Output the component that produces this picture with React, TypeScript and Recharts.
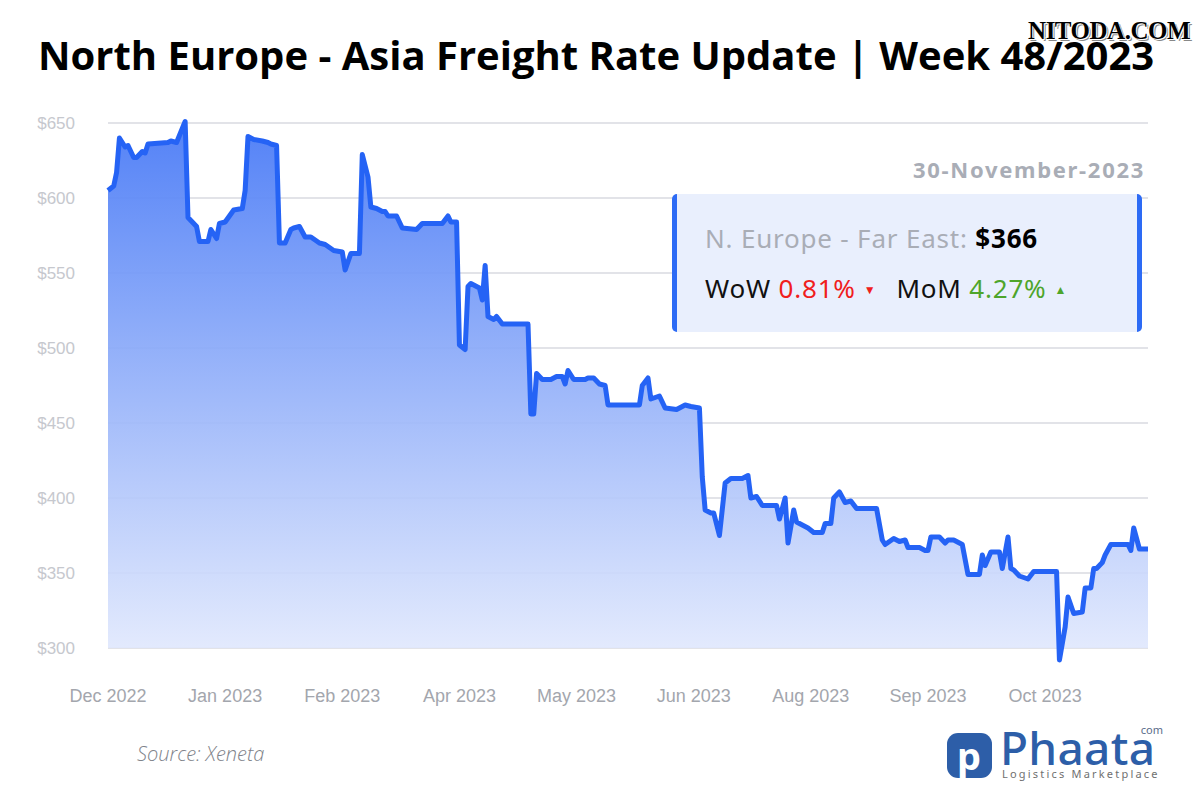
import React from "react";
import { AreaChart, Area, XAxis, YAxis, CartesianGrid } from "recharts";

if (typeof document !== "undefined") {
  document.body.style.margin = "0";
}

const tickLabels = [
  "Dec 2022", "Jan 2023", "Feb 2023", "Apr 2023", "May 2023",
  "Jun 2023", "Aug 2023", "Sep 2023", "Oct 2023",
];
const tickDays = [0, 41, 82, 123, 164, 205, 246, 287, 328];
const yTicks = [300, 350, 400, 450, 500, 550, 600, 650];

// day index since 1 Dec 2022
const days = [
  0, 2, 3, 4, 5, 6, 7, 9, 10, 12, 13, 14, 21, 22, 24, 27, 28, 31, 32, 35,
  36, 38, 39, 41, 44, 47, 48, 49, 51, 54, 56, 57, 59, 60, 62, 64, 65, 67, 69, 71,
  74, 76, 79, 82, 83, 85, 88, 89, 91, 92, 94, 96, 97, 98, 101, 103, 108, 110, 117, 119,
  120, 122, 123, 125, 126, 127, 130, 131, 132, 133, 135, 136, 138, 147, 148, 149, 150, 152, 155, 157,
  159, 160, 161, 163, 167, 168, 170, 172, 174, 175, 186, 187, 189, 190, 193, 195, 199, 202, 204, 207,
  208, 209, 211, 212, 214, 216, 218, 222, 224, 225, 227, 229, 234, 235, 237, 238, 240, 241, 242, 245,
  247, 250, 251, 253, 254, 256, 258, 260, 262, 269, 271, 272, 275, 277, 279, 280, 284, 286, 287, 288,
  291, 293, 294, 296, 299, 301, 305, 306, 307, 309, 312, 313, 315, 316, 317, 319, 322, 324, 332, 333,
  335, 336, 338, 341, 342, 344, 345, 346, 348, 349, 351, 357, 358, 359, 361, 364,
];
const rates = [
  605, 608, 617, 640, 637, 634, 635, 627, 627, 631, 630, 636, 637, 638, 637, 651, 587, 581, 571, 571,
  579, 573, 583, 584, 592, 593, 605, 641, 639, 638, 637, 636, 635, 570, 570, 579, 580, 581, 574, 574,
  570, 569, 565, 564, 552, 563, 563, 629, 614, 594, 593, 591, 591, 588, 588, 580, 579, 583, 583, 588,
  584, 584, 502, 499, 541, 543, 540, 532, 555, 521, 519, 521, 516, 516, 456, 456, 483, 479, 479, 481,
  481, 476, 485, 479, 479, 480, 480, 476, 475, 462, 462, 475, 480, 466, 468, 460, 459, 462, 461, 460,
  414, 392, 390, 390, 375, 410, 413, 413, 415, 400, 401, 395, 395, 386, 400, 370, 392, 384, 383, 380,
  377, 377, 383, 383, 400, 404, 397, 398, 393, 393, 372, 369, 373, 371, 372, 367, 367, 365, 365, 374,
  374, 370, 372, 372, 369, 349, 349, 362, 355, 364, 364, 353, 374, 353, 352, 348, 346, 351, 351, 292,
  314, 334, 323, 324, 340, 340, 353, 353, 357, 362, 369, 369, 365, 380, 366, 366,
];

const data = days.map((d, i) => ({ day: d, rate: rates[i] }));

const W = 1200;
const H = 800;

export default function App() {
  return (
    <div style={{ position: "relative", width: W, height: H, background: "#fff", overflow: "hidden" }}>
      <AreaChart
        width={W}
        height={H}
        data={data}
        margin={{ top: 120, right: 52, bottom: 97, left: 0 }}
      >
        <defs>
          <linearGradient id="fillGrad" x1="0" y1="0" x2="0" y2="1">
            <stop offset="0%" stopColor="#4a7bf6" stopOpacity={0.95} />
            <stop offset="100%" stopColor="#e3eafd" stopOpacity={0.9} />
          </linearGradient>
        </defs>
        <CartesianGrid vertical={false} stroke="#e2e3e8" strokeWidth={2} syncWithTicks={true} />
        <XAxis
          dataKey="day"
          type="number"
          domain={[0, 364]}
          ticks={tickDays}
          tickFormatter={(v: number) => tickLabels[tickDays.indexOf(v)] ?? ""}
          axisLine={false}
          tickLine={false}
          tickMargin={20}
          height={40}
          interval={0}
          tick={{ fill: "#a3a6ad", fontSize: 18, fontFamily: "Liberation Sans, Arial, sans-serif" }}
        />
        <YAxis
          type="number"
          domain={[290, 652]}
          ticks={yTicks}
          width={108}
          axisLine={false}
          tickLine={false}
          tickMargin={27}
          tickFormatter={(v: number) => `$${v}`}
          tick={{ fill: "#c6c8ce", fontSize: 17, fontFamily: "Liberation Sans, Arial, sans-serif" }}
        />
        <Area
          type="linear"
          dataKey="rate"
          baseValue={300}
          stroke="#2563f5"
          strokeWidth={5}
          strokeLinejoin="round"
          fill="url(#fillGrad)"
          fillOpacity={1}
          isAnimationActive={false}
          dot={false}
          activeDot={false}
        />
      </AreaChart>

      <div
        style={{
          position: "absolute",
          left: 38,
          top: 30,
          fontFamily: "'Open Sans', sans-serif",
          fontWeight: 700,
          fontSize: 40,
          color: "#000",
          whiteSpace: "nowrap",
          lineHeight: "50px",
        }}
      >
        North Europe - Asia Freight Rate Update | Week 48/2023
      </div>

      <div
        style={{
          position: "absolute",
          right: 10,
          top: 16,
          fontFamily: "'Liberation Serif', 'Times New Roman', serif",
          fontWeight: 700,
          fontSize: 25,
          color: "#000",
          letterSpacing: -0.5,
          textShadow: "1px 1px 0 #fff, -1px -1px 0 #fff, 2px 2px 0 #888",
          lineHeight: "30px",
        }}
      >
        NITODA.COM
      </div>

      <div
        style={{
          position: "absolute",
          right: 55,
          top: 154,
          fontFamily: "'Noto Sans', sans-serif",
          fontWeight: 700,
          fontSize: 22,
          letterSpacing: 1.7,
          color: "#a9adb6",
          lineHeight: "30px",
        }}
      >
        30-November-2023
      </div>

      <div
        style={{
          position: "absolute",
          left: 672,
          top: 194,
          width: 460,
          height: 138,
          background: "#e9effd",
          borderLeft: "5px solid #2d6bf5",
          borderRight: "5px solid #2d6bf5",
          borderRadius: 5,
          fontFamily: "'Noto Sans', sans-serif",
          fontSize: 26,
          letterSpacing: 0.8,
        }}
      >
        <div style={{ position: "absolute", left: 28, top: 26, whiteSpace: "nowrap", lineHeight: "36px" }}>
          <span style={{ color: "#a9adb6" }}>N. Europe - Far East: </span>
          <span style={{ color: "#000", fontWeight: 700 }}>$366</span>
        </div>
        <div style={{ position: "absolute", left: 28, top: 76, whiteSpace: "nowrap", lineHeight: "36px" }}>
          <span style={{ color: "#111" }}>WoW </span>
          <span style={{ color: "#f0201c" }}>0.81%</span>
          <span style={{ color: "#f0201c", fontSize: 12, marginLeft: 8, verticalAlign: 4 }}>▼</span>
          <span style={{ color: "#111", marginLeft: 20 }}>MoM </span>
          <span style={{ color: "#4ea52b" }}>4.27%</span>
          <span style={{ color: "#4ea52b", fontSize: 12, marginLeft: 8, verticalAlign: 4 }}>▲</span>
        </div>
      </div>

      <div
        style={{
          position: "absolute",
          left: 137,
          top: 740,
          fontFamily: "'Open Sans', sans-serif",
          fontStyle: "italic",
          fontWeight: 300,
          fontSize: 20,
          color: "#80838a",
          lineHeight: "28px",
        }}
      >
        Source: Xeneta
      </div>

      <svg style={{ position: "absolute", left: 940, top: 710 }} width={258} height={88}>
        <rect x={7} y={23} width={45} height={45} rx={11} fill="#2d5ea8" />
        <text x={29} y={60} textAnchor="middle" fill="#fff" fontSize={38} fontWeight={700} fontFamily="'Noto Sans', sans-serif">p</text>
        <text x={60} y={55} fill="#2d5ea8" fontSize={46} fontWeight={500} fontFamily="'Noto Sans', sans-serif" letterSpacing={0.3}>Phaata</text>
        <text x={223} y={24} textAnchor="end" fill="#5a6c8a" fontSize={11} fontFamily="'Noto Sans', sans-serif">com</text>
        <text x={62} y={68} fill="#707070" fontSize={11} fontFamily="'Noto Sans', sans-serif" letterSpacing={2.2}>Logistics Marketplace</text>
      </svg>
    </div>
  );
}
